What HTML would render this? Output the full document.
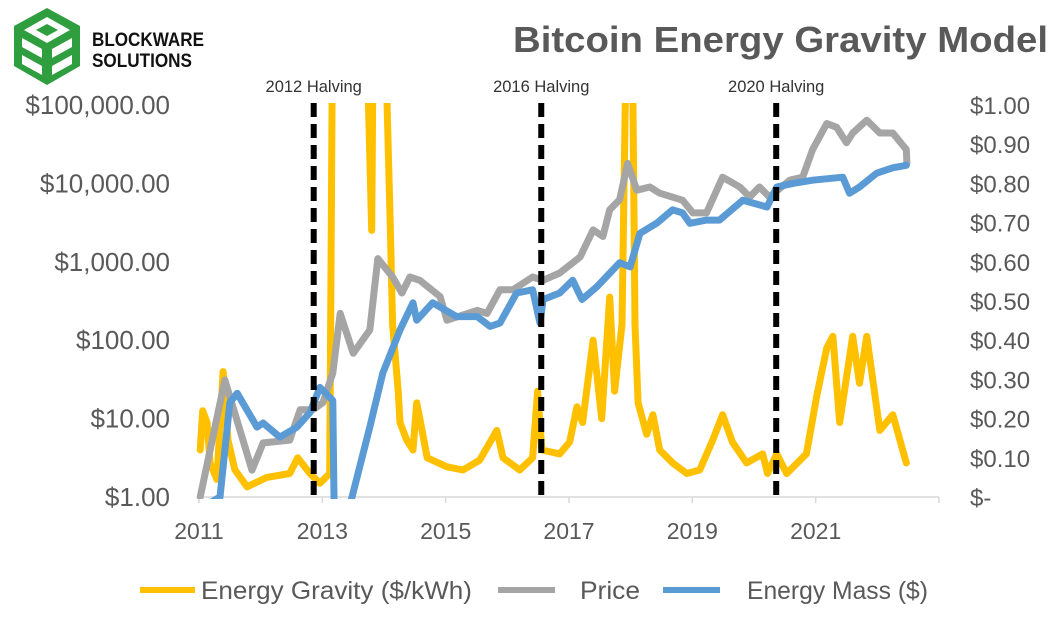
<!DOCTYPE html>
<html><head><meta charset="utf-8"><style>
html,body{margin:0;padding:0;background:#fff;}
body{width:1057px;height:630px;overflow:hidden;font-family:"Liberation Sans",sans-serif;}
</style></head><body>
<svg id="chart" width="1057" height="630" xmlns="http://www.w3.org/2000/svg">
<g>
 <polygon points="47,8 80,26 80,66 47,85 14,66 14,26" fill="#2e9e3e"/>
 <polygon points="47,17 70,30 47,43 24,30" fill="#fff"/>
 <polygon points="47,24 58,30 47,36 36,30" fill="#2e9e3e"/>
 <polygon points="22,38 42,49 42,58 22,47" fill="#fff"/>
 <polygon points="22,55 42,66 42,75 22,64" fill="#fff"/>
 <polygon points="72,38 52,49 52,58 72,47" fill="#fff"/>
 <polygon points="72,55 52,66 52,75 72,64" fill="#fff"/>
 <text x="92" y="46" font-size="19" font-weight="bold" fill="#111" textLength="112" lengthAdjust="spacingAndGlyphs">BLOCKWARE</text>
 <text x="92" y="67" font-size="19" font-weight="bold" fill="#111" textLength="100" lengthAdjust="spacingAndGlyphs">SOLUTIONS</text>
</g>
<text x="1048" y="52" text-anchor="end" font-size="36" font-weight="bold" fill="#595959" textLength="535" lengthAdjust="spacingAndGlyphs">Bitcoin Energy Gravity Model</text>
<g id="axes"></g>
<defs><clipPath id="plotclip"><rect x="190" y="103" width="760" height="396"/></clipPath></defs>
<g id="series" clip-path="url(#plotclip)"></g>
<g id="halvings"></g>
<g id="legend">
 <line x1="140" y1="590" x2="195" y2="590" stroke="#ffc000" stroke-width="6"/>
 <text x="201" y="599" font-size="25" fill="#595959" textLength="271" lengthAdjust="spacingAndGlyphs">Energy Gravity ($/kWh)</text>
 <line x1="498" y1="590" x2="555" y2="590" stroke="#a5a5a5" stroke-width="6"/>
 <text x="580" y="599" font-size="25" fill="#595959" textLength="60" lengthAdjust="spacingAndGlyphs">Price</text>
 <line x1="663" y1="590" x2="720" y2="590" stroke="#5b9bd5" stroke-width="6"/>
 <text x="747" y="599" font-size="25" fill="#595959" textLength="181" lengthAdjust="spacingAndGlyphs">Energy Mass ($)</text>
</g>
</svg>
<script>
const xTicks = [2011, 2013, 2015, 2017, 2019, 2021, 2023];
const xTickLabels = ["2011", "2013", "2015", "2017", "2019", "2021", ""];
const leftTicks = [1, 10, 100, 1000, 10000, 100000];
const leftTickLabels = ["$1.00", "$10.00", "$100.00", "$1,000.00", "$10,000.00", "$100,000.00"];
const rightTicks = [0, 0.1, 0.2, 0.3, 0.4, 0.5, 0.6, 0.7, 0.8, 0.9, 1.0];
const rightTickLabels = ["$-", "$0.10", "$0.20", "$0.30", "$0.40", "$0.50", "$0.60", "$0.70", "$0.80", "$0.90", "$1.00"];
const halvingYears = [2012.86, 2016.55, 2020.36];
const halvingLabels = ["2012 Halving", "2016 Halving", "2020 Halving"];

const priceDates = [2011.02,2011.42,2011.86,2012.04,2012.47,2012.64,2012.85,2013.01,2013.17,2013.29,2013.50,2013.77,2013.90,2014.14,2014.29,2014.42,2014.58,2014.91,2015.02,2015.51,2015.67,2015.88,2016.09,2016.41,2016.58,2016.85,2017.18,2017.39,2017.55,2017.66,2017.82,2017.95,2018.10,2018.31,2018.47,2018.84,2019.01,2019.23,2019.49,2019.77,2019.93,2020.09,2020.25,2020.58,2020.79,2020.95,2021.18,2021.34,2021.50,2021.60,2021.83,2022.04,2022.25,2022.47,2022.48];
const priceValues = [1,31,2.2,4.9,5.3,13,13,16,38,220,68,135,1100,640,400,640,580,360,180,240,220,440,440,640,580,720,1150,2550,2100,4600,6200,18000,8200,9000,7500,6100,4200,4200,12000,9000,6700,9000,6700,11000,12000,27000,58000,52000,33000,44000,64000,44000,44000,27000,18000];

const massDates = [2011.0,2011.34,2011.50,2011.62,2011.94,2012.04,2012.31,2012.59,2012.80,2012.96,2013.17,2013.19,2013.45,2013.77,2013.98,2014.26,2014.47,2014.53,2014.79,2015.18,2015.51,2015.72,2015.88,2016.15,2016.41,2016.53,2016.58,2016.85,2017.06,2017.21,2017.45,2017.82,2017.99,2018.15,2018.42,2018.68,2018.84,2018.96,2019.23,2019.44,2019.82,2020.21,2020.37,2020.63,2020.95,2021.44,2021.55,2021.71,2021.99,2022.25,2022.47];
const massValues = [0.7,1,16,21,7.8,8.8,5.8,7.8,12,25,17,0.8,0.8,7.8,38,135,300,180,300,200,200,150,165,400,440,165,330,400,580,330,480,970,860,2300,3100,4600,4200,3100,3400,3400,6100,5000,9000,10000,11000,12000,7500,9000,13500,15800,17000];

const gravityDates = [2011.02,2011.06,2011.13,2011.18,2011.29,2011.39,2011.47,2011.58,2011.78,2012.10,2012.47,2012.60,2012.80,2012.96,2013.12,2013.17,2013.19,2013.70,2013.80,2013.83,2014.00,2014.10,2014.14,2014.23,2014.26,2014.37,2014.47,2014.53,2014.58,2014.70,2015.02,2015.28,2015.55,2015.83,2015.93,2016.20,2016.41,2016.49,2016.56,2016.85,2017.01,2017.13,2017.22,2017.39,2017.53,2017.66,2017.74,2017.86,2017.94,2018.02,2018.07,2018.12,2018.26,2018.36,2018.47,2018.68,2018.91,2019.12,2019.33,2019.49,2019.65,2019.88,2020.14,2020.22,2020.37,2020.53,2020.85,2021.02,2021.18,2021.28,2021.39,2021.60,2021.71,2021.83,2022.04,2022.25,2022.47];
const gravityValues = [0.12,0.22,0.19,0.087,0.045,0.32,0.145,0.07,0.026,0.05,0.06,0.10,0.06,0.035,0.06,1.3,1.3,1.3,0.68,1.3,1.3,0.7,0.44,0.27,0.19,0.145,0.12,0.24,0.2,0.1,0.077,0.069,0.094,0.17,0.1,0.069,0.1,0.27,0.12,0.11,0.14,0.23,0.19,0.4,0.2,0.51,0.27,0.44,1.3,1.3,0.44,0.24,0.16,0.21,0.12,0.087,0.06,0.069,0.145,0.21,0.14,0.087,0.11,0.06,0.11,0.06,0.11,0.26,0.38,0.41,0.19,0.41,0.29,0.41,0.17,0.21,0.087];

const NS = "http://www.w3.org/2000/svg";
const X0 = 199, X1 = 939, Y0 = 497, Y1 = 105;
function xs(yr){ return X0 + (yr - 2011) / 12 * (X1 - X0); }
function yl(v){ return Y0 - Math.log10(Math.max(v, 0.01)) / 5 * (Y0 - Y1); }
function yr(v){ return Y0 - v / 1.0 * (Y0 - Y1); }
function mk(tag, attrs, parent){ const e = document.createElementNS(NS, tag); for (const k in attrs) e.setAttribute(k, attrs[k]); parent.appendChild(e); return e; }

const axes = document.getElementById("axes");
const baseline = mk("line", {x1: X0, y1: Y0, x2: X1, y2: Y0, stroke: "#d9d9d9", "stroke-width": 1.5}, axes);


xTicks.forEach((t, i) => {
  const tk = mk("line", {x1: xs(t), y1: Y0, x2: xs(t), y2: Y0 + 6, stroke: "#d9d9d9", "stroke-width": 1.5}, axes);
  
  
  const lb = mk("text", {x: xs(t), y: 539, "text-anchor": "middle", "font-size": 23, fill: "#595959"}, axes);
  lb.textContent = xTickLabels[i];
  
  
});
leftTicks.forEach((t, i) => {
  const lb = mk("text", {x: 170, y: yl(t) + 9, "text-anchor": "end", "font-size": 26, fill: "#595959"}, axes);
  lb.textContent = leftTickLabels[i];
  
  
});
rightTicks.forEach((t, i) => {
  const lb = mk("text", {x: 970, y: yr(t) + 9, "text-anchor": "start", "font-size": 24, fill: "#595959"}, axes);
  lb.textContent = rightTickLabels[i];
  
  
});

const series = document.getElementById("series");
function drawLine(dates, vals, yf, color, name){
  const d = dates.map((t, i) => (i ? "L" : "M") + xs(t).toFixed(1) + "," + yf(vals[i]).toFixed(1)).join(" ");
  const p = mk("path", {d: d, fill: "none", stroke: color, "stroke-width": 7, "stroke-linejoin": "round", "stroke-linecap": "round"}, series);
  
  
}
drawLine(gravityDates, gravityValues, yr, "#ffc000", "energy-gravity-line");
drawLine(priceDates, priceValues, yl, "#a5a5a5", "price-line");
drawLine(massDates, massValues, yl, "#5b9bd5", "energy-mass-line");

const hv = document.getElementById("halvings");
halvingYears.forEach((h, i) => {
  const ln = mk("line", {x1: xs(h), y1: 103, x2: xs(h), y2: 500, stroke: "#000", "stroke-width": 6, "stroke-dasharray": "14 7"}, hv);
  
  
  const lb = mk("text", {x: xs(h), y: 92, "text-anchor": "middle", "font-size": 16.5, fill: "#333"}, hv);
  lb.textContent = halvingLabels[i];
  
  
});
</script>
</body></html>
